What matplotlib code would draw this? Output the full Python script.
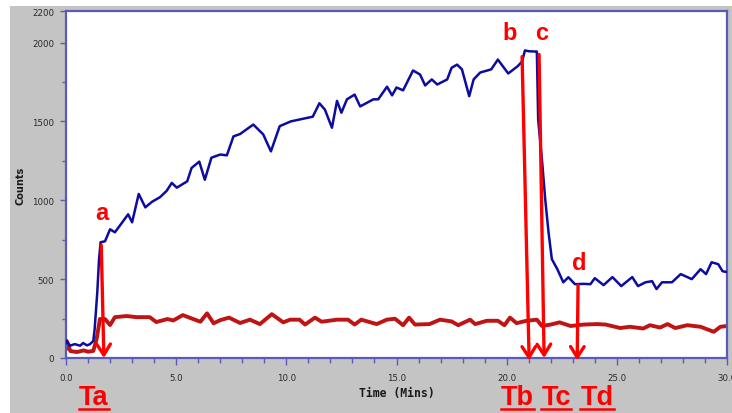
import matplotlib
matplotlib.use("Agg")
import matplotlib.pyplot as plt
from matplotlib.patches import Rectangle
from matplotlib.lines import Line2D
from matplotlib.ticker import MultipleLocator, FixedLocator, FuncFormatter
import matplotlib.transforms as mtransforms

# ---------------------------------------------------------------------------
# Data
# ---------------------------------------------------------------------------
blue_t = [0.0, 0.03, 0.18, 0.4, 0.64, 0.78, 0.95, 1.09, 1.24, 1.3, 1.42, 1.5,
          1.57, 1.77, 2.0, 2.22, 2.5, 2.82, 3.0, 3.3, 3.6, 3.9, 4.27, 4.57,
          4.8, 5.03, 5.5, 5.7, 6.05, 6.3, 6.6, 7.0, 7.3, 7.6, 7.9, 8.2, 8.5,
          8.95, 9.3, 9.7, 10.2, 10.7, 11.2, 11.5, 11.75, 12.07, 12.3, 12.5,
          12.75, 13.1, 13.35, 13.95, 14.17, 14.57, 14.8, 15.0, 15.3, 15.75,
          16.07, 16.3, 16.6, 16.85, 17.3, 17.5, 17.75, 17.97, 18.3, 18.5,
          18.8, 19.3, 19.6, 20.07, 20.5, 20.7, 20.83, 21.0, 21.3, 21.37,
          21.43, 21.6, 21.75, 21.9, 22.05, 22.3, 22.57, 22.8, 23.1, 23.5,
          23.8, 24.0, 24.4, 24.8, 25.2, 25.7, 25.96, 26.3, 26.6, 26.8, 27.05,
          27.5, 27.9, 28.4, 28.8, 29.05, 29.3, 29.6, 29.8, 30.0]
blue_counts = [95, 110, 78, 88, 78, 95, 80, 88, 108, 183, 417, 627,
               734, 740, 816, 797, 850, 911, 860, 1040, 955, 990, 1020, 1060,
               1110, 1080, 1120, 1205, 1245, 1130, 1270, 1290, 1285, 1405, 1420, 1450, 1480,
               1418, 1310, 1470, 1500, 1515, 1530, 1615, 1575, 1460, 1630, 1555,
               1640, 1670, 1595, 1640, 1640, 1720, 1665, 1715, 1697, 1823,
               1797, 1728, 1766, 1734, 1766, 1840, 1860, 1830, 1660, 1766,
               1810, 1830, 1892, 1804, 1850, 1880, 1950, 1945, 1943, 1943,
               1512, 1260, 1006, 797, 627, 563, 480, 512, 468, 470,
               468, 506, 462, 513, 456, 513, 456, 480, 487, 437, 480,
               480, 532, 500, 563, 532, 607, 595, 550, 545]

red_t = [0.0, 0.03, 0.2, 0.5, 0.8, 1.0, 1.24, 1.39, 1.54, 1.77, 2.0, 2.22,
         2.75, 3.2, 3.8, 4.1, 4.6, 4.87, 5.3, 5.77, 6.1, 6.4, 6.7, 7.0, 7.4,
         7.9, 8.35, 8.8, 9.34, 9.86, 10.17, 10.6, 10.85, 11.3, 11.6, 12.3,
         12.8, 13.1, 13.4, 14.1, 14.56, 14.93, 15.3, 15.57, 15.84, 16.5,
         16.97, 17.5, 17.8, 18.34, 18.57, 19.1, 19.6, 19.9, 20.15, 20.45,
         20.9, 21.37, 21.6, 22.0, 22.4, 22.9, 23.5, 24.1, 24.5, 25.15, 25.6,
         26.2, 26.5, 26.96, 27.3, 27.65, 28.2, 28.8, 29.4, 29.7, 30.0]
red_counts = [60, 108, 44, 38, 48, 40, 45, 120, 247, 247, 209, 259,
              266, 259, 259, 228, 247, 238, 272, 247, 230, 283, 220, 240, 256,
              222, 243, 215, 278, 226, 243, 243, 212, 256, 230, 243,
              243, 212, 243, 215, 243, 249, 208, 256, 212, 215,
              243, 232, 208, 243, 215, 236, 236, 208, 256, 221,
              236, 243, 203, 212, 226, 203, 212, 215, 212, 190, 198,
              187, 208, 193, 215, 190, 208, 198, 166, 198, 203]

# annotation arrows: start / end points and letter positions
arrow_labels = ["a", "b", "c", "d"]
arrow_start_t = [1.6, 20.7, 21.47, 23.24]
arrow_start_c = [715, 1911, 1924, 462]
arrow_end_t = [1.72, 21.02, 21.7, 23.2]
arrow_end_c = [0, -15, 0, -15]
label_t = [1.65, 20.15, 21.6, 23.3]
label_c = [924, 2063, 2063, 607]

time_labels = ["Ta", "Tb", "Tc", "Td"]
time_label_t = [1.27, 20.47, 22.24, 24.1]

# ---------------------------------------------------------------------------
# Plot
# ---------------------------------------------------------------------------
W, H = 732, 414
fig = plt.figure(figsize=(W / 100, H / 100), dpi=100)
fig.patch.set_facecolor("white")
fig.add_artist(Rectangle((10 / W, 0), 1 - 10 / W, 1 - 7 / H,
                         transform=fig.transFigure, facecolor="#c4c4c4",
                         edgecolor="none", zorder=-10))

ax = fig.add_axes([66 / W, 1 - 359 / H, (727 - 66) / W, (359 - 12) / H])
ax.set_facecolor("white")

ax.plot(blue_t, blue_counts, color="#0c0ca0", lw=1.8, zorder=3)
ax.plot(red_t, red_counts, color="#c01414", lw=2.8, zorder=2)

ax.set_xlim(0, 30)
ax.set_ylim(0, 2200)

spine_col = "#5a5ab8"
for s in ax.spines.values():
    s.set_color(spine_col)
    s.set_linewidth(1.6)

ax.xaxis.set_major_locator(MultipleLocator(5))
ax.xaxis.set_minor_locator(MultipleLocator(1))
ax.xaxis.set_major_formatter(FuncFormatter(lambda v, p: f"{v:.1f}"))
ax.yaxis.set_major_locator(FixedLocator([0, 500, 1000, 1500, 2000, 2200]))
ax.yaxis.set_minor_locator(FixedLocator([250, 750, 1250, 1750]))
ax.yaxis.set_major_formatter(FuncFormatter(lambda v, p: f"{int(v)}"))

ax.tick_params(axis="both", which="both", direction="out", color=spine_col,
               labelcolor="#2a2a2a", labelsize=6.2, width=1.0)
ax.tick_params(axis="x", which="major", length=5, pad=6)
ax.tick_params(axis="x", which="minor", length=3.5)
ax.tick_params(axis="y", which="major", length=4.5, pad=4)
ax.tick_params(axis="y", which="minor", length=3)

ax.set_xlabel("Time (Mins)", fontsize=8.3, fontweight="bold", color="#1a1a1a",
              family="DejaVu Sans Mono", labelpad=3)
ax.set_ylabel("Counts", fontsize=7, fontweight="bold", color="#1a1a1a", labelpad=5)

red = "#ff0000"
for lab, st, sc, et, ec, lt, lc in zip(arrow_labels, arrow_start_t, arrow_start_c,
                                       arrow_end_t, arrow_end_c, label_t, label_c):
    ax.annotate("", xy=(et, ec), xytext=(st, sc),
                arrowprops=dict(arrowstyle="->, head_length=0.55, head_width=0.35",
                                color=red, lw=2.4, mutation_scale=14,
                                shrinkA=0, shrinkB=0),
                annotation_clip=False, zorder=5)
    ax.text(lt, lc, lab, color=red, fontsize=17, fontweight="bold",
            family="Liberation Sans", ha="center", va="center", zorder=6)

trans = mtransforms.blended_transform_factory(ax.transData, fig.transFigure)
tl_texts = []
for lab, t in zip(time_labels, time_label_t):
    tl_texts.append(ax.text(t, (H - 405) / H, lab, transform=trans, color=red,
                            fontsize=19.5, fontweight="bold", family="Liberation Sans",
                            ha="center", va="baseline", clip_on=False))

# underline the time labels
fig.canvas.draw()
for txt in tl_texts:
    bb = txt.get_window_extent()
    y = (H - 409.5) / H
    fig.add_artist(Line2D([bb.x0 / W, bb.x1 / W], [y, y], transform=fig.transFigure,
                          color=red, lw=1.8, zorder=5))

fig.savefig("out.png", dpi=100)
